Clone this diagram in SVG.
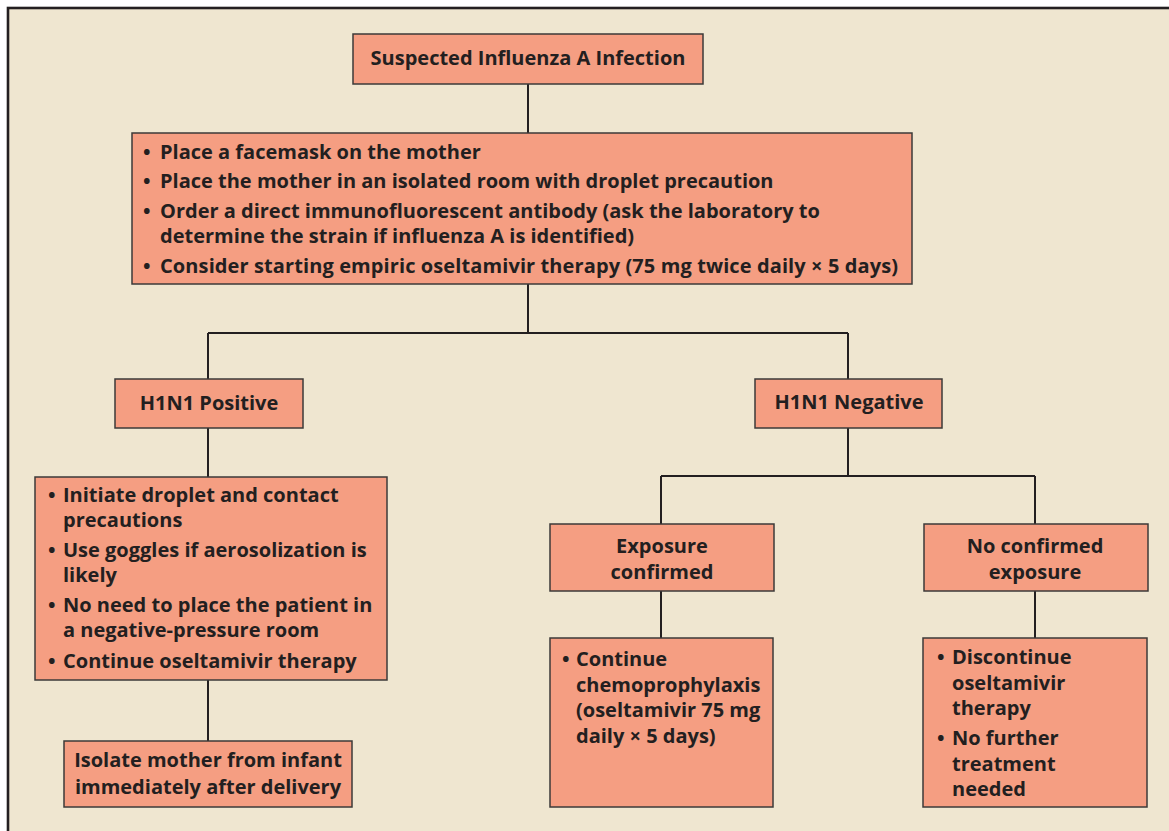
<svg xmlns="http://www.w3.org/2000/svg" width="1169" height="831" viewBox="0 0 1169 831">
<style>
.box{fill:#F59E82;stroke:#3c3a38;stroke-width:1.5}
.t{font-family:"Open Sans","Noto Sans","Liberation Sans",sans-serif;font-weight:700;font-size:20px;fill:#231F20}
.c{text-anchor:middle}
.con{stroke:#231F20;stroke-width:2;fill:none}
</style>
<rect x="0" y="0" width="1169" height="831" fill="#ffffff"/>
<rect x="8" y="8" width="1200" height="900" fill="#EFE6D0" stroke="#231F20" stroke-width="2.6"/>
<g id="connectors" class="con">
<path d="M528 84V133M528 284V333M208 333H848M208 333V379M848 333V379M208 428V477M208 680V741M848 428V476M661 476H1035M661 476V524M1035 476V524M661 591V638M1035 591V638"/>
</g>
<g id="n1">
<rect class="box" x="353" y="34" width="350" height="50"/>
<text class="t c" x="528" y="65">Suspected Influenza A Infection</text>
</g>
<g id="n2">
<rect class="box" x="132" y="133" width="780" height="151"/>
<text class="t" x="143" y="159">•</text><text class="t" x="160" y="159">Place a facemask on the mother</text>
<text class="t" x="143" y="188">•</text><text class="t" x="160" y="188">Place the mother in an isolated room with droplet precaution</text>
<text class="t" x="143" y="218">•</text><text class="t" x="160" y="218">Order a direct immunofluorescent antibody (ask the laboratory to<tspan x="160" dy="25">determine the strain if influenza A is identified)</tspan></text>
<text class="t" x="143" y="273">•</text><text class="t" x="160" y="273" textLength="738">Consider starting empiric oseltamivir therapy (75 mg twice daily × 5 days)</text>
</g>
<g id="n3">
<rect class="box" x="115" y="379" width="188" height="49"/>
<text class="t c" x="209" y="410">H1N1 Positive</text>
</g>
<g id="n4">
<rect class="box" x="755" y="379" width="187" height="49"/>
<text class="t c" x="849" y="409">H1N1 Negative</text>
</g>
<g id="n5">
<rect class="box" x="35" y="477" width="352" height="203"/>
<text class="t" x="48" y="502">•</text><text class="t" x="63" y="502">Initiate droplet and contact<tspan x="63" dy="25">precautions</tspan></text>
<text class="t" x="48" y="557">•</text><text class="t" x="63" y="557">Use goggles if aerosolization is<tspan x="63" dy="25">likely</tspan></text>
<text class="t" x="48" y="612">•</text><text class="t" x="63" y="612">No need to place the patient in<tspan x="63" dy="25">a negative-pressure room</tspan></text>
<text class="t" x="48" y="668">•</text><text class="t" x="63" y="668">Continue oseltamivir therapy</text>
</g>
<g id="n6">
<rect class="box" x="64" y="741" width="288" height="66"/>
<text class="t c" x="208" y="767">Isolate mother from infant<tspan x="208" dy="27">immediately after delivery</tspan></text>
</g>
<g id="n7">
<rect class="box" x="550" y="524" width="224" height="67"/>
<text class="t c" x="662" y="553">Exposure<tspan x="662" dy="26">confirmed</tspan></text>
</g>
<g id="n8">
<rect class="box" x="924" y="524" width="224" height="67"/>
<text class="t c" x="1035" y="553">No confirmed<tspan x="1035" dy="26">exposure</tspan></text>
</g>
<g id="n9">
<rect class="box" x="550" y="638" width="223" height="169"/>
<text class="t" x="562" y="666">•</text><text class="t" x="576" y="666">Continue<tspan x="576" dy="25.5">chemoprophylaxis</tspan><tspan x="576" dy="25.5">(oseltamivir 75 mg</tspan><tspan x="576" dy="25.5">daily × 5 days)</tspan></text>
</g>
<g id="n10">
<rect class="box" x="923" y="638" width="224" height="169"/>
<text class="t" x="937" y="664">•</text><text class="t" x="952" y="664">Discontinue<tspan x="952" dy="26">oseltamivir</tspan><tspan x="952" dy="25">therapy</tspan></text>
<text class="t" x="937" y="745">•</text><text class="t" x="952" y="745">No further<tspan x="952" dy="26">treatment</tspan><tspan x="952" dy="25">needed</tspan></text>
</g>
</svg>
